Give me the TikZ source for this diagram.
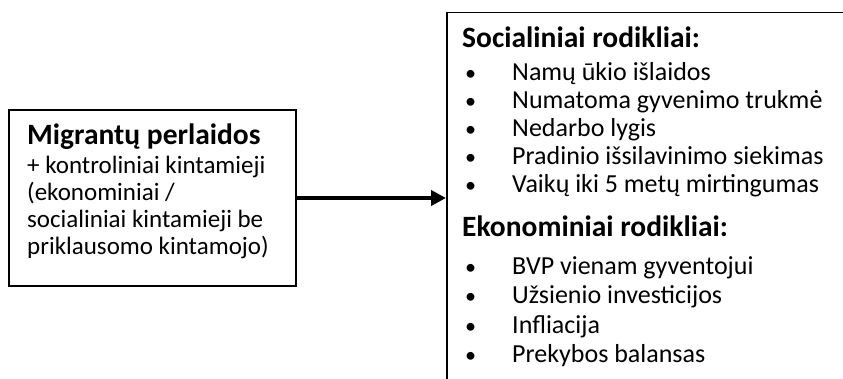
\documentclass[tikz,border=0pt]{standalone}
\usepackage{fontspec}
\setmainfont{Carlito}
\usepackage{tikz}
\usetikzlibrary{arrows.meta, positioning}
\newcommand{\listdot}{\makebox[50pt][l]{\hspace{3pt}\scalebox{0.85}{•}}}

\begin{document}
\begin{tikzpicture}[
    x=1pt, y=-1pt,
    node distance=28pt,
    framebox/.style={draw, line width=1.5pt, inner sep=0pt},
    titletext/.style={inner sep=0pt, anchor=base west, font=\fontsize{29.5}{34}\selectfont\bfseries},
    bodytext/.style={inner sep=0pt, font=\fontsize{26}{30}\selectfont},
    srctext/.style={bodytext, font=\fontsize{25}{30}\selectfont},
    link/.style={-{Triangle[length=15pt, width=15pt]}, line width=4pt}
]
    \clip (0,0) rectangle (843,379);

    % --- Left box ---
    \node (src) [framebox, minimum width=287pt, minimum height=176pt] at (152.5,198) {};
    \node (srctitle) [titletext] at (27,145) {Migrantų perlaidos};
    \node (src1) [srctext, below=29pt of srctitle.base west, anchor=base west] {+ kontroliniai kintamieji};
    \node (src2) [srctext, below=27pt of src1.base west, anchor=base west] {(ekonominiai /};
    \node (src3) [srctext, below=27pt of src2.base west, anchor=base west] {socialiniai kintamieji be};
    \node (src4) [srctext, below=27pt of src3.base west, anchor=base west] {priklausomo kintamojo)};

    % --- Right box (runs past the page edge) ---
    \node (tgt) [framebox, anchor=north west, minimum width=420pt, minimum height=400pt] at (446,12) {};

    % Social indicators
    \node (soctitle) [titletext] at (462,48) {Socialiniai rodikliai:};
    \node (soc1) [bodytext, below=33pt of soctitle.base west, anchor=base west] {\listdot Namų ūkio išlaidos};
    \node (soc2) [bodytext, below=of soc1.base west, anchor=base west] {\listdot Numatoma gyvenimo trukmė};
    \node (soc3) [bodytext, below=of soc2.base west, anchor=base west] {\listdot Nedarbo lygis};
    \node (soc4) [bodytext, below=of soc3.base west, anchor=base west] {\listdot Pradinio išsilavinimo siekimas};
    \node (soc5) [bodytext, below=of soc4.base west, anchor=base west] {\listdot Vaikų iki 5 metų mirtingumas};

    % Economic indicators
    \node (ecotitle) [titletext, below=44pt of soc5.base west, anchor=base west] {Ekonominiai rodikliai:};
    \node (eco1) [bodytext, below=38pt of ecotitle.base west, anchor=base west] {\listdot BVP vienam gyventojui};
    \node (eco2) [bodytext, below=29pt of eco1.base west, anchor=base west] {\listdot Užsienio investicijos};
    \node (eco3) [bodytext, below=29pt of eco2.base west, anchor=base west] {\listdot Infliacija};
    \node (eco4) [bodytext, below=29pt of eco3.base west, anchor=base west] {\listdot Prekybos balansas};

    % --- Connection ---
    \draw [link] (src.east) -- (src.east -| tgt.west);
\end{tikzpicture}
\end{document}
